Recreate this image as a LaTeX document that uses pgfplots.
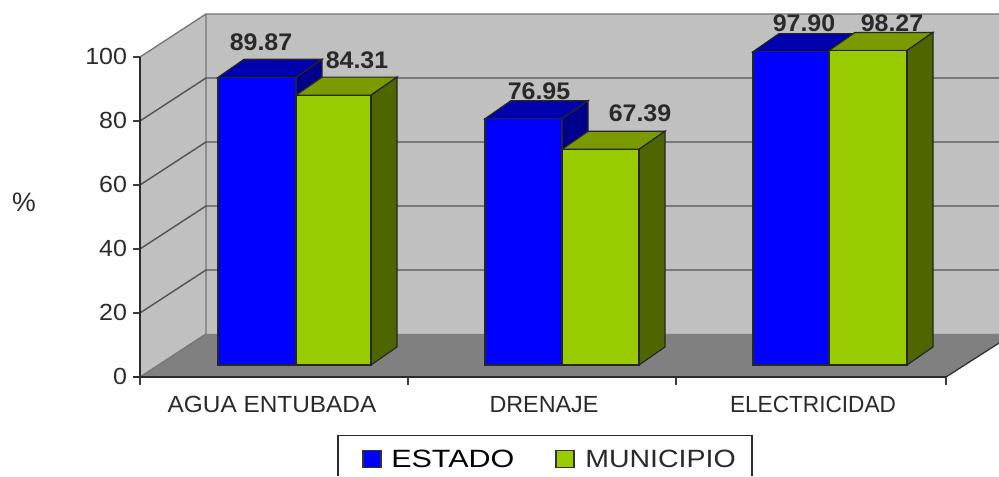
\documentclass[border=0pt]{standalone}
\usepackage{fontspec}
\setmainfont{Liberation Sans}
\usepackage{pgfplots}
\pgfplotsset{compat=1.18}
\definecolor{wall}{HTML}{C0C0C0}
\definecolor{floorc}{HTML}{808080}
\definecolor{gridc}{HTML}{565656}
\definecolor{txt}{HTML}{2A2A2A}
\definecolor{blueF}{HTML}{0000FF}
\definecolor{blueT}{HTML}{0000AC}
\definecolor{blueS}{HTML}{00008C}
\definecolor{greenF}{HTML}{99CC00}
\definecolor{greenT}{HTML}{7A9A00}
\definecolor{greenS}{HTML}{4F6600}
\newcommand{\threeDbar}[6]{%
  \addplot[fill=#5,draw=black!85,line width=0.9pt] coordinates {(#1,{3.75+#3}) ({#1+26},{9.4+#3}) ({#2+26},{9.4+#3}) (#2,{3.75+#3})} -- cycle;
  \addplot[fill=#6,draw=black!85,line width=0.9pt] coordinates {(#2,3.75) ({#2+26},9.4) ({#2+26},{9.4+#3}) (#2,{3.75+#3})} -- cycle;
  \addplot[fill=#4,draw=black!85,line width=0.9pt] coordinates {(#1,3.75) (#2,3.75) (#2,{3.75+#3}) (#1,{3.75+#3})} -- cycle;
}
\newcommand{\gridv}[1]{\addplot[gridc,line width=1.1pt] coordinates {(140,#1) (206,{#1+13.44}) (999,{#1+13.44})};}
\begin{document}
\begin{tikzpicture}
\useasboundingbox (-105pt,-75pt) rectangle (644.25pt,282.75pt);
\begin{axis}[
  x=0.75pt,y=2.4pt,
  xmin=140,xmax=999,ymin=0,ymax=113.44,
  clip=false,
  axis x line=bottom,axis y line=left,
  axis line style={draw=none,-},
  tick align=outside,
  major tick length=5.25pt,
  minor tick length=6pt,
  tick style={draw=gridc!70!black,line width=0.9pt},
  ytick={0,20,40,60,80,100},
  yticklabel={\scalebox{1.07}[1]{\pgfmathprintnumber{\tick}}},
  xtick={272,544,813},
  xticklabels={\scalebox{1.045}[1]{AGUA ENTUBADA},\scalebox{1.0}[1]{DRENAJE},\scalebox{0.97}[1]{ELECTRICIDAD}},
  xtick style={draw=none},
  minor xtick={140,408,676,946},
  minor x tick style={draw=gridc!70!black,line width=0.9pt},
  /pgf/number format/assume math mode=true,
  tick label style={font=\fontsize{17.5pt}{19pt}\selectfont,text=txt},
  yticklabel style={xshift=-1pt,yshift=0.75pt},
  xticklabel style={yshift=-5.5pt},
]
% walls and floor
\addplot[fill=wall,draw=none] coordinates {(140,0) (206,13.44) (999,13.44) (999,113.44) (206,113.44) (140,100)} -- cycle;
\addplot[fill=floorc,draw=none] coordinates {(140,0) (206,13.44) (999,13.44) (999,10.6) (946,0)} -- cycle;
\addplot[gridc!70!wall,line width=1pt] coordinates {(140,0) (206,13.44) (206,113.44) (999,113.44)};
\addplot[gridc!70!wall,line width=1pt] coordinates {(140,100) (206,113.44)};
\gridv{20}\gridv{40}\gridv{60}\gridv{80}
% axis lines
\addplot[gridc!50!black,line width=1pt] coordinates {(140,0) (140,100)};
\addplot[gridc!50!black,line width=1.2pt] coordinates {(133,0) (946,0)};
\addplot[gridc!50!black,line width=0.9pt] coordinates {(946,0) (999,10.6)};
% value labels
\begin{scope}[every node/.style={font=\fontsize{18pt}{20pt}\selectfont\bfseries,text=txt,inner sep=0pt,anchor=center}]
\node at (axis cs:261,104.7) {\scalebox{1.04}[1]{89.87}};
\node at (axis cs:357,99.1) {\scalebox{1.04}[1]{84.31}};
\node at (axis cs:539,89.4) {\scalebox{1.04}[1]{76.95}};
\node at (axis cs:640,82.5) {\scalebox{1.04}[1]{67.39}};
\node at (axis cs:804,110.6) {\scalebox{1.04}[1]{97.90}};
\node at (axis cs:892,110.6) {\scalebox{1.04}[1]{98.27}};
\end{scope}
% bars
\threeDbar{218}{296}{89.87}{blueF}{blueT}{blueS}
\threeDbar{296}{371}{84.31}{greenF}{greenT}{greenS}
\threeDbar{485}{562}{76.95}{blueF}{blueT}{blueS}
\threeDbar{562}{639}{67.39}{greenF}{greenT}{greenS}
\threeDbar{753}{829}{97.90}{blueF}{blueT}{blueS}
\threeDbar{829}{907}{98.27}{greenF}{greenT}{greenS}
% percent sign
\node[font=\fontsize{20pt}{22pt}\selectfont,text=txt] at (axis cs:24,54.7) {\%};
% legend (cut by the lower edge of the picture)
\addplot[draw=gridc!50!black,line width=0.9pt] coordinates {(338,-31) (338,-18.4) (752,-18.4) (752,-31)};
\addplot[fill=blueF,draw=black!80,line width=0.8pt] coordinates {(363,-23.1) (381,-23.1) (381,-28.2) (363,-28.2)} -- cycle;
\addplot[fill=greenF,draw=black!80,line width=0.8pt] coordinates {(556,-23.1) (574,-23.1) (574,-28.2) (556,-28.2)} -- cycle;
\node[anchor=west,inner sep=0pt,font=\fontsize{18.75pt}{20pt}\selectfont,text=black] at (axis cs:391,-25.6) {\scalebox{1.22}[1]{ESTADO}};
\node[anchor=west,inner sep=0pt,font=\fontsize{18.75pt}{20pt}\selectfont,text=txt] at (axis cs:585,-25.6) {\scalebox{1.14}[1]{MUNICIPIO}};
\end{axis}
\end{tikzpicture}
\end{document}
